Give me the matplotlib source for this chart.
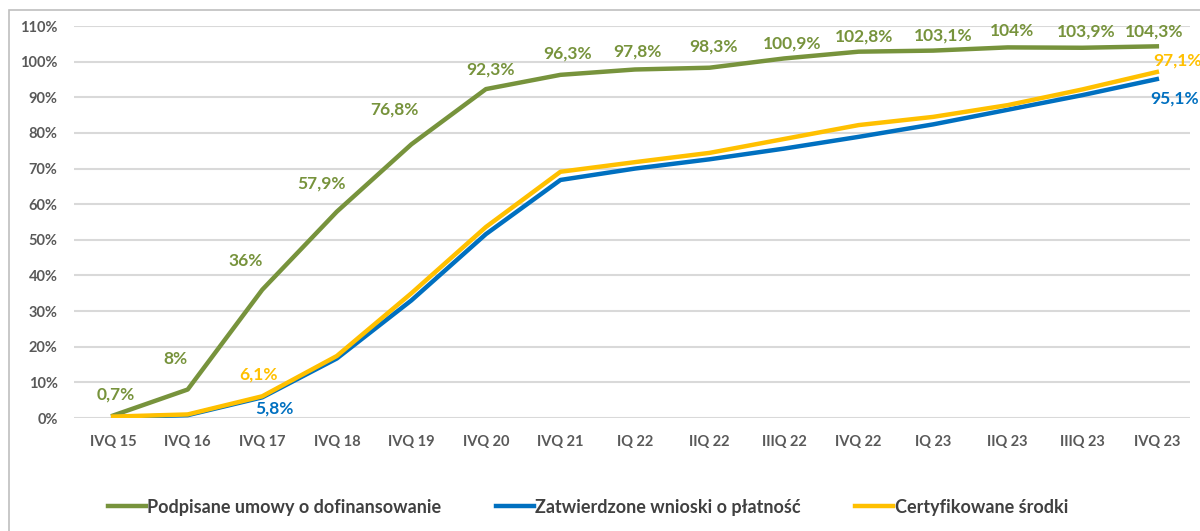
import matplotlib.pyplot as plt
import matplotlib.patches as mpatches
import numpy as np

plt.rcParams['font.family'] = ['Lato', 'DejaVu Sans']

# dane
kwartaly = ['IVQ 15', 'IVQ 16', 'IVQ 17', 'IVQ 18', 'IVQ 19', 'IVQ 20', 'IVQ 21', 'IQ 22',
            'IIQ 22', 'IIIQ 22', 'IVQ 22', 'IQ 23', 'IIQ 23', 'IIIQ 23', 'IVQ 23']
umowy = [0.7, 8.0, 36.0, 57.9, 76.8, 92.3, 96.3, 97.8, 98.3, 100.9, 102.8, 103.1, 104.0, 103.9, 104.3]
wnioski = [0.2, 0.8, 5.8, 16.7, 33.0, 51.6, 66.8, 70.0, 72.6, 75.6, 78.9, 82.4, 86.5, 90.6, 95.1]
certyfikowane = [0.4, 1.0, 6.1, 17.4, 35.0, 53.6, 69.1, 71.8, 74.4, 78.3, 82.2, 84.5, 87.8, 92.2, 97.1]
etykiety_umowy = ['0,7%', '8%', '36%', '57,9%', '76,8%', '92,3%', '96,3%', '97,8%', '98,3%',
                  '100,9%', '102,8%', '103,1%', '104%', '103,9%', '104,3%']
etykiety_wnioski = {2: '5,8%', 14: '95,1%'}
etykiety_cert = {2: '6,1%', 14: '97,1%'}

GREEN = '#77933C'
BLUE = '#0070C0'
YELLOW = '#FFC000'
GRAY = '#595959'

fig = plt.figure(figsize=(12, 5.31), dpi=100)
ax = fig.add_axes([0.062, 0.2128, 0.930, 0.7382])

# ramka wykresu
fig.patches.append(mpatches.Rectangle((9 / 1200, -0.1), 1.2, 1 - 9.5 / 531 + 0.1,
                                      transform=fig.transFigure, fill=False,
                                      edgecolor='#BFBFBF', linewidth=1.2))

x = np.arange(len(kwartaly))
ax.plot(x, umowy, color=GREEN, lw=3.2, label='Podpisane umowy o dofinansowanie', zorder=3)
ax.plot(x, wnioski, color=BLUE, lw=3.2, label='Zatwierdzone wnioski o płatność', zorder=3)
ax.plot(x, certyfikowane, color=YELLOW, lw=3.2, label='Certyfikowane środki', zorder=4)

# przesunięcia etykiet (w punktach)
dx_umowy = [2, -9, -12, -11, -12, 3, 5, 2, 3, 6, 4, 7, 3, 3, -2]
dy_umowy = [15, 22, 21, 20, 25, 14, 15, 13, 15, 11, 11, 11, 12, 12, 11]
for i, t in enumerate(etykiety_umowy):
    ax.annotate(t, (x[i], umowy[i]), xytext=(dx_umowy[i], dy_umowy[i]), textcoords='offset points',
                ha='center', va='center', color=GREEN, fontsize=12.5, fontweight='bold')
ax.annotate(etykiety_cert[2], (x[2], certyfikowane[2]), xytext=(-3, 16), textcoords='offset points',
            ha='center', va='center', color=YELLOW, fontsize=12.5, fontweight='bold')
ax.annotate(etykiety_cert[14], (x[14], certyfikowane[14]), xytext=(15, 8), textcoords='offset points',
            ha='center', va='center', color=YELLOW, fontsize=12.5, fontweight='bold')
ax.annotate(etykiety_wnioski[2], (x[2], wnioski[2]), xytext=(9, -8), textcoords='offset points',
            ha='center', va='center', color=BLUE, fontsize=12.5, fontweight='bold')
ax.annotate(etykiety_wnioski[14], (x[14], wnioski[14]), xytext=(13, -14), textcoords='offset points',
            ha='center', va='center', color=BLUE, fontsize=12.5, fontweight='bold')

ax.set_xlim(-0.52, 14.45)
ax.set_ylim(0, 110)
ax.set_yticks(np.arange(0, 111, 10))
ax.set_yticklabels([f'{v}%' for v in range(0, 111, 10)])
ax.set_xticks(x)
ax.set_xticklabels(kwartaly)
ax.tick_params(axis='both', length=0, labelcolor=GRAY, labelsize=10.5)
ax.tick_params(axis='y', pad=12)
ax.tick_params(axis='x', pad=12)
for lab in ax.get_xticklabels() + ax.get_yticklabels():
    lab.set_fontweight('bold')
ax.grid(axis='y', color='#D9D9D9', lw=1.5)
ax.set_axisbelow(True)
for s in ax.spines.values():
    s.set_visible(False)

leg = fig.legend(loc='center', bbox_to_anchor=(0.49, 0.045), ncol=3, frameon=False,
                 fontsize=13, handlelength=2.1, handletextpad=0.1, columnspacing=3.0)
for t in leg.get_texts():
    t.set_color('#404040')
    t.set_fontweight('bold')

fig.savefig('out.png', dpi=100)
